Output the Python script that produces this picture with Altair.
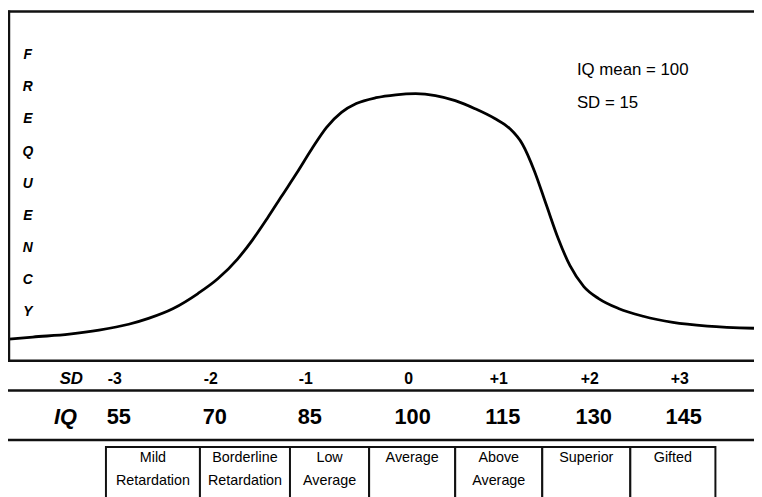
import altair as alt
import pandas as pd

# ---- data ----
CURVE_IQ = [37.83, 41.55, 47.27, 51.91, 56.55, 59.64, 63.51, 67.37, 70.47, 73.59,
            75.94, 78.28, 80.63, 82.97, 85.29, 87.45, 89.62, 91.78, 94.66, 97.55,
            100.49, 103.79, 107.09, 110.38, 113.68, 116.14, 118.26, 120.22, 122.17,
            124.13, 126.09, 128.37, 130.82, 134.12, 138.24, 143.19, 148.96, 156.70]
CURVE_FREQ = [8.1, 8.9, 10.0, 11.5, 13.7, 15.9, 19.6, 25.2, 30.7, 38.1,
              45.2, 53.3, 61.9, 70.4, 79.3, 87.4, 93.0, 96.3, 98.5, 99.6,
              100.0, 99.3, 97.4, 94.4, 90.7, 87.0, 81.1, 71.1, 58.5,
              45.9, 35.6, 27.8, 23.3, 19.6, 16.7, 14.4, 13.0, 12.2]

IQ_TICKS = [55, 70, 85, 100, 115, 130, 145]
SD_LABELS = ["-3", "-2", "-1", "0", "+1", "+2", "+3"]
IQ_LABELS = ["55", "70", "85", "100", "115", "130", "145"]
CLASSES = ["Mild\nRetardation", "Borderline\nRetardation", "Low\nAverage", "Average",
           "Above\nAverage", "Superior", "Gifted"]
FREQ_LETTERS = list("FREQUENCY")
NOTES = ["IQ mean = 100", "SD = 15"]

# ---- layout / style constants ----
W, H = 754, 489
X_RANGE = [112, 209, 305, 409, 500, 592, 683]          # pixel anchors of IQ ticks
TABLE_EDGES = [99, 194, 285, 365, 452, 540, 629, 715]  # pixel anchors of table column edges
FONT = "Liberation Sans, Arial, sans-serif"

curve_df = pd.DataFrame({"iq": CURVE_IQ, "freq": CURVE_FREQ})
ticks_df = pd.DataFrame({"iq": IQ_TICKS, "sd": SD_LABELS, "iql": IQ_LABELS})
table_df = pd.DataFrame({"cls": CLASSES})
table_df["lo"] = range(len(CLASSES))
table_df["hi"] = table_df["lo"] + 1
table_df["mid"] = table_df["lo"] + 0.5

xq = alt.X("iq:Q", scale=alt.Scale(domain=IQ_TICKS, range=X_RANGE, nice=False, zero=False), axis=None)
tscale = alt.Scale(domain=list(range(len(CLASSES) + 1)), range=TABLE_EDGES, nice=False, zero=False)

one = alt.Data(values=[{}])

def hrule(y, x0=0, x1=W, sw=2.5):
    return alt.Chart(one).mark_rule(color="#111", strokeWidth=sw).encode(
        x=alt.value(x0), x2=alt.value(x1), y=alt.value(y))

curve = alt.Chart(curve_df).mark_line(color="black", strokeWidth=2.8, interpolate="monotone").encode(
    x=xq,
    y=alt.Y("freq:Q", scale=alt.Scale(domain=[0, 100], range=[354, 84], nice=False, zero=False), axis=None),
)

top_border = hrule(1, sw=2.5)
left_border = alt.Chart(one).mark_rule(color="#111", strokeWidth=2.5).encode(
    x=alt.value(1), y=alt.value(0), y2=alt.value(355))
bottom_border = hrule(354)
sd_line = hrule(384)
iq_line = hrule(434)

freq_txt = alt.Chart(one).mark_text(
    font=FONT, fontSize=14, fontWeight="bold", fontStyle="italic",
    lineHeight=32.5, baseline="middle", align="center").encode(
    x=alt.value(20), y=alt.value(45), text=alt.value(FREQ_LETTERS))

notes = alt.Chart(pd.DataFrame({"t": NOTES, "k": [0, 1]})).mark_text(
    font=FONT, fontSize=17, align="left", baseline="middle").encode(
    x=alt.value(575),
    y=alt.Y("k:Q", scale=alt.Scale(domain=[0, 1], range=[60, 93]), axis=None),
    text="t:N")

sd_head = alt.Chart(one).mark_text(font=FONT, fontSize=17, fontWeight="bold", fontStyle="italic",
                                   baseline="middle").encode(
    x=alt.value(64), y=alt.value(372), text=alt.value("SD"))
iq_head = alt.Chart(one).mark_text(font=FONT, fontSize=22, fontWeight="bold", fontStyle="italic",
                                   baseline="middle").encode(
    x=alt.value(58), y=alt.value(411), text=alt.value("IQ"))

sd_txt = alt.Chart(ticks_df).mark_text(font=FONT, fontSize=16, fontWeight="bold", baseline="middle",
                                       dx=-4).encode(
    x=xq, y=alt.value(372), text="sd:N")
iq_txt = alt.Chart(ticks_df).mark_text(font=FONT, fontSize=22, fontWeight="bold", baseline="middle").encode(
    x=xq, y=alt.value(411), text="iql:N")

cells = alt.Chart(table_df).mark_rect(fill="white", stroke="#111", strokeWidth=2).encode(
    x=alt.X("lo:Q", scale=tscale, axis=None), x2="hi:Q",
    y=alt.value(441), y2=alt.value(520))
cell_txt = alt.Chart(table_df).mark_text(font=FONT, fontSize=14.5, baseline="top",
                                         lineBreak="\n", lineHeight=23, dy=-6).encode(
    x=alt.X("mid:Q", scale=tscale, axis=None), y=alt.value(451), text="cls:N")

chart = alt.layer(
    cells, cell_txt, curve, top_border, left_border, bottom_border, sd_line, iq_line,
    freq_txt, notes, sd_head, iq_head, sd_txt, iq_txt,
).resolve_scale(x="independent", y="independent").properties(
    width=W, height=H, autosize=alt.AutoSizeParams(type="none"), padding=0,
    background="white",
).configure_view(stroke=None)

chart.save("out.html", embed_options={"renderer": "svg", "actions": False})
